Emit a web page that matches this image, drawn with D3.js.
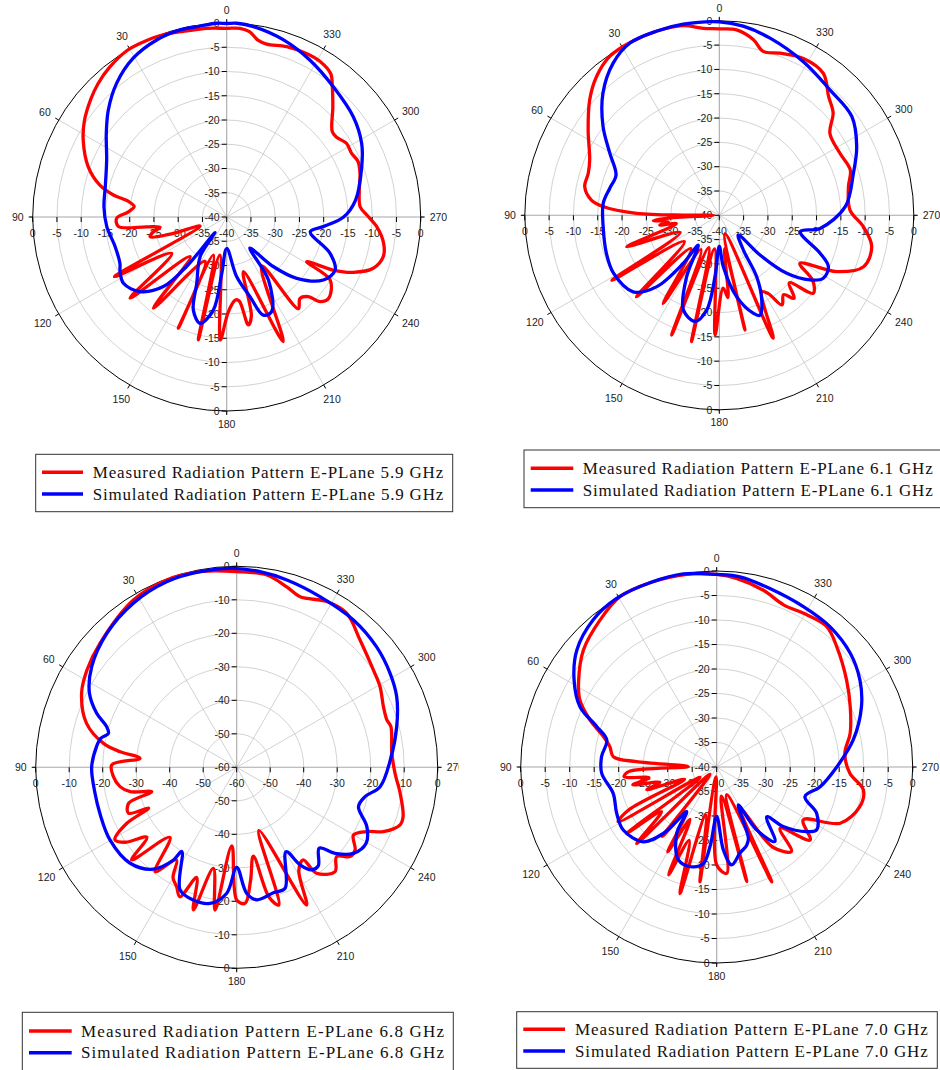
<!DOCTYPE html>
<html>
<head>
<meta charset="utf-8">
<script src="https://cdn.jsdelivr.net/npm/d3@7"></script>
<style>
  body { margin: 0; background: #fff; }
  svg { display: block; }
</style>
</head>
<body>
<script>
// [angle in degrees, gain in dB]
const meas59 = [[0,-1.1],[6,-0.9],[12,-0.75],[19,-0.2],[26,0],[31,0],[38,-0.8],[44,-1.8],[49,-2.9],[56,-4.6],[62,-6.5],[70,-9.6],[76,-13.1],[79,-16.2],[81,-19.5],[83.5,-20.8],[87,-19.7],[90.7,-17.3],[95,-17.6],[97,-23.4],[98.8,-26.1],[101.5,-24.5],[104.4,-23.7],[107,-28.5],[108.8,-34.2],[118,-13.8],[123.5,-26.4],[130,-14],[137.3,-28.9],[141.2,-15.9],[154,-29.8],[156.5,-15],[160.7,-31.7],[167,-14],[170,-32],[177,-14.6],[180.5,-20],[183.5,-22],[186,-22.8],[188.5,-22.5],[191.3,-17.3],[194,-19],[197,-28.2],[204.4,-11.8],[215.5,-27.6],[218,-16],[222,-17.4],[225.7,-16.5],[227.8,-14],[231.3,-13.1],[238.6,-15],[240.8,-21.1],[243.5,-15.5],[246.4,-11.5],[250.7,-8],[255.8,-6.7],[260.5,-7.2],[266.3,-9],[270.8,-11.1],[274.4,-12.4],[281.5,-12.1],[288,-11.1],[293,-10.6],[297,-11.1],[301.5,-11],[306,-12],[309,-12],[316,-8.5],[321,-5.4],[324,-3.5],[329,-2.6],[334,-2.5],[340.6,-2.75],[347,-3.4],[350,-2.95],[353,-1.5],[356,-1]];
const sim59 = [[0,-0.1],[3,0],[8,-0.25],[14,-0.25],[21.6,-0.75],[30.5,-2],[39.5,-4.3],[47.9,-7.1],[55.3,-9.8],[64.6,-12.6],[76,-14.2],[85.2,-14.6],[94.6,-15.2],[104.9,-16.2],[113.5,-16],[117.1,-15.3],[122.7,-14.7],[130.7,-16.4],[137.7,-20.6],[141,-27],[143,-36],[146.1,-30.2],[155.7,-25],[160.3,-19.6],[166,-17.4],[171.8,-20.6],[175,-28.3],[180,-33.5],[189.5,-27.5],[196.3,-22.9],[200.5,-18.4],[205.4,-18.4],[213.5,-24.4],[216.7,-32],[223.2,-26],[228.8,-20.8],[236.9,-16.2],[243.9,-15.1],[250.6,-17.4],[260,-22.5],[264.3,-20],[270,-15.9],[277.5,-13.2],[290.4,-10.3],[298.6,-8.3],[308.4,-6.7],[320.7,-5.3],[332,-3.4],[342.2,-1.65],[352,-0.35],[357,0]];

const meas61 = [[0,-1.65],[4.9,-1.4],[10.8,-0.3],[18.6,0],[27,0],[34.6,-0.3],[41.5,-1.9],[48.3,-4.3],[56.9,-7.8],[66.8,-11],[72.2,-11.7],[78,-11.7],[83.2,-13.5],[85.7,-16],[88.6,-23],[89.6,-33],[90,-38.8],[93.3,-29.2],[94.5,-26.4],[97,-29.4],[99.3,-27.6],[101,-31],[108.7,-19.9],[113.8,-31.2],[121.2,-14.2],[127,-31],[134.5,-16.1],[139.5,-31],[147.5,-18.5],[152,-32],[158.3,-13.5],[162,-33],[167.6,-13.4],[172,-33],[178,-15.4],[183,-25],[186,-23],[189,-33],[192.6,-15.8],[197,-36],[203.7,-12.4],[209,-22],[212,-21],[215,-17.5],[219,-19],[222,-17],[226,-20],[230.3,-14.9],[235,-16.5],[239.2,-20.7],[244.4,-13.2],[250.4,-8.5],[258.4,-8],[265.5,-10.3],[272.3,-13.1],[282.5,-12.8],[289,-11.5],[297.2,-12.1],[306.5,-11.7],[312,-8.5],[317.4,-6.8],[323.8,-3.8],[331.8,-3.4],[339.5,-4.4],[345,-5.1],[349,-3.2],[354.7,-1.7]];
const sim61 = [[0,-0.2],[10.7,0],[18.7,0],[27.4,-0.1],[34.9,-1.85],[43.6,-5.3],[52.6,-9.9],[60.4,-14.1],[68.7,-17.2],[76.1,-16.8],[84.1,-16],[95.6,-16],[108.6,-15.5],[118.7,-15.2],[131.6,-16.3],[138.7,-20.4],[143.1,-27.6],[144.7,-32.5],[152,-25.7],[159.2,-19.2],[167.1,-17.6],[172.4,-20.3],[176,-27.4],[180,-33.6],[184.5,-29.4],[192,-22.9],[199.1,-18.7],[202.2,-17.8],[206.6,-20.5],[211.3,-25.2],[214.7,-31.3],[224,-34.4],[225.7,-28.3],[229.3,-21.7],[234.5,-17.1],[238.8,-15],[244.8,-15.2],[249.3,-17.8],[258.6,-23],[262.6,-19.1],[274,-14],[287.4,-11.1],[296.6,-8.4],[306.7,-6],[318.6,-5.6],[331.3,-4],[344,-2.1],[352.8,-0.8]];

const meas68 = [[0,-1.6],[10.6,-0.6],[20.5,-0.3],[31.7,-1.3],[47.8,-4.9],[57,-6.7],[64.5,-8.7],[73.7,-13.3],[79.8,-19.6],[82.4,-24.9],[84.7,-31],[88.9,-22.7],[94.3,-23.1],[99.4,-24.7],[102.9,-27.4],[106,-33.6],[108.4,-26],[113,-24.9],[114.9,-31],[117,-23.2],[120.8,-17.7],[124,-20],[127.9,-26],[131.4,-18.2],[136.4,-31.1],[142,-20.5],[147,-27],[150,-22],[153.3,-20.1],[156.3,-17.8],[160,-25],[163.1,-15.5],[167,-29],[171.4,-16.9],[176.4,-36.5],[180,-20.4],[183.5,-19.3],[187,-26],[190.6,-33],[194,-20],[197,-17],[199.3,-40],[206.9,-13.9],[211,-24],[215.7,-26],[217,-20.4],[223.3,-17.2],[228.2,-20],[231.8,-16.9],[235.1,-16.9],[239.9,-19.7],[243.7,-16.7],[246.3,-12.2],[250.6,-8.3],[253.5,-8.2],[261,-10.6],[267.8,-12.7],[275.2,-13.5],[284.8,-12.4],[287.5,-13],[292.5,-12.6],[299.4,-10.9],[305.5,-9.9],[315.9,-7.1],[324.5,-3.5],[331.5,-3.7],[339.6,-5.7],[344.5,-4.1],[351.1,-1.9]];
const sim68 = [[1,-0.6],[10.6,-0.6],[20.7,-0.8],[32.2,-2.1],[44.1,-4.3],[55.2,-7.3],[63.3,-10.8],[68.9,-15.2],[72.6,-19.3],[75.2,-20.4],[78,-18.5],[81.6,-17.7],[90,-16.7],[100.4,-17],[108.6,-16.9],[119.8,-16.4],[132,-17.2],[140.7,-20.7],[145.7,-26.5],[146.9,-30],[155.2,-19.7],[161.9,-18.3],[168.9,-18.6],[175.5,-22.3],[180,-30.1],[184.5,-22.3],[188.6,-20],[196.3,-21],[201.8,-21.1],[210.3,-30.8],[213,-25.3],[216.1,-22.1],[219.6,-21.8],[225.6,-25.5],[228.8,-21],[233.6,-16.7],[239.6,-15.2],[245.5,-17.3],[252.1,-21.8],[257.1,-20.7],[262.3,-16.8],[272.7,-14.1],[284.3,-10.7],[293.8,-7.8],[301.5,-6.3],[310.8,-4.9],[321.6,-3.9],[334,-3.3],[345,-2.1],[353.2,-1.2]];

const meas70 = [[0,-0.7],[8.8,-0.2],[19.5,0],[29.6,0],[38.4,-1.7],[48.7,-3.8],[57.8,-6.7],[63.9,-8.9],[69.6,-12.4],[75,-16.1],[79.2,-17.8],[84.3,-18.8],[86.2,-23.6],[89.3,-34.2],[93,-22],[96,-21],[99,-26],[102,-22.5],[105,-28],[108,-25],[111,-33],[116,-20],[119,-17],[122,-36],[126.4,-17.2],[129,-25.5],[133.7,-17.4],[137,-38],[142,-22],[146,-29],[150,-20],[153,-28],[156,-15.9],[159.4,-24],[163.8,-13.1],[167,-30],[171.7,-16.3],[176,-38],[180,-20],[185.4,-18.2],[189,-34],[194.7,-15.8],[199.7,-34],[205.6,-14],[210,-30],[215,-20],[221.5,-17],[226,-22],[232,-15.8],[238.6,-19.3],[245.5,-12.3],[254.5,-9.7],[261.1,-9.7],[267.3,-12.8],[276.1,-13.7],[284.2,-11.9],[294.3,-10.1],[303.8,-8.1],[315.1,-5.3],[321.9,-3.6],[329.4,-3.9],[337.6,-4.2],[345.2,-2.7],[354,-1.3]];
const sim70 = [[0,-0.7],[9.8,0],[19.5,0],[30.7,0],[40,-0.8],[50.1,-2.8],[58.6,-5.9],[66.2,-9.5],[71.4,-14.2],[76.2,-16.9],[84.9,-16.4],[93.2,-16.5],[104.3,-18.2],[114.9,-17.5],[124,-17],[135.5,-18.6],[141.2,-22.6],[146.1,-29],[148.9,-24.2],[157.6,-19.5],[166,-19],[172.1,-20.1],[175.2,-23.7],[180,-29.9],[184.6,-23],[188.7,-19.8],[195.1,-21.8],[201,-22.9],[204,-24.1],[209.7,-31.1],[212.4,-24.8],[218,-20.7],[225.2,-25.6],[228.2,-21.8],[234.3,-17.4],[237.8,-15.9],[245.1,-17.5],[251.4,-21],[259.2,-18.5],[270,-15.5],[281.2,-11.6],[292.6,-8],[301.3,-5.8],[310.4,-4.2],[321,-3.2],[331.6,-2.8],[343.4,-2],[353,-0.9]];

const angleTicks = [0, 30, 60, 90, 120, 150, 180, 210, 240, 270, 300, 330];
const freqs = ["5.9", "6.1", "6.8", "7.0"];

const width = 940, height = 1070;

// panel layout (pixels)
const panels = [
  {cx: 226.7, cy: 217, R: 194, min: -40, step: 5, meas: meas59, sim: sim59, freq: freqs[0],
   lg: {x: 35.7, y: 454.3, w: 417, h: 57.4, l0: 42, l1: 83, y1: 472.3, y2: 494, tx: 92.7, tl: 350.6}},
  {cx: 719.3, cy: 215.3, R: 194.5, min: -40, step: 5, meas: meas61, sim: sim61, freq: freqs[1],
   lg: {x: 524, y: 450, w: 430, h: 57.7, l0: 530.7, l1: 573.3, y1: 468.3, y2: 490, tx: 582.7, tl: 350}},
  {cx: 236.7, cy: 767.3, R: 201, min: -60, step: 10, meas: meas68, sim: sim68, freq: freqs[2], clip: 459,
   lg: {x: 22.3, y: 1012.3, w: 431, h: 70, l0: 29, l1: 71.7, y1: 1031, y2: 1052.7, tx: 81, tl: 363}},
  {cx: 716.7, cy: 767, R: 196, min: -40, step: 5, meas: meas70, sim: sim70, freq: freqs[3],
   lg: {x: 516.7, y: 1011.7, w: 420.6, h: 56.6, l0: 523.3, l1: 565, y1: 1029.3, y2: 1051, tx: 575, tl: 352.7}}
];

const svg = d3.select("body").append("svg")
    .attr("width", width)
    .attr("height", height)
    .attr("viewBox", [0, 0, width, height]);

const rad = a => a * Math.PI / 180;
const labelFont = "'Liberation Sans', Arial, sans-serif";
const legendFont = "'Liberation Serif', 'Times New Roman', serif";

panels.forEach((p, i) => {
  let root = svg.append("g");
  if (p.clip) {
    svg.append("clipPath").attr("id", "clip" + i)
      .append("rect").attr("x", 0).attr("y", 0).attr("width", p.clip).attr("height", height);
    root.attr("clip-path", `url(#clip${i})`);
  }
  const g = root.append("g").attr("transform", `translate(${p.cx},${p.cy})`);

  const r = d3.scaleLinear().domain([p.min, 0]).range([0, p.R]).clamp(true);
  const ticks = d3.range(p.min, 0.001, p.step);

  // rings
  g.append("g")
    .attr("fill", "none")
    .attr("stroke", "#c6c6c6")
    .attr("stroke-width", 0.8)
    .selectAll("circle")
    .data(ticks.filter(t => t > p.min && t < 0))
    .join("circle")
      .attr("r", r);

  // spokes
  g.append("g")
    .attr("stroke", "#c6c6c6")
    .attr("stroke-width", 0.8)
    .selectAll("line")
    .data(angleTicks.filter(a => a % 90 !== 0))
    .join("line")
      .attr("x2", a => -p.R * Math.sin(rad(a)))
      .attr("y2", a => -p.R * Math.cos(rad(a)));

  // main axes
  g.append("line").attr("x1", -p.R - 3).attr("x2", p.R + 3)
    .attr("stroke", "#a8a8a8").attr("stroke-width", 1.1);
  g.append("line").attr("y1", -p.R - 3).attr("y2", p.R + 3)
    .attr("stroke", "#a8a8a8").attr("stroke-width", 1.1);

  // outer circle
  g.append("circle").attr("r", p.R)
    .attr("fill", "none").attr("stroke", "#000").attr("stroke-width", 1);

  // angle ticks
  g.append("g")
    .attr("stroke", "#000")
    .attr("stroke-width", 1)
    .selectAll("line")
    .data(angleTicks)
    .join("line")
      .attr("x1", a => -p.R * Math.sin(rad(a)))
      .attr("y1", a => -p.R * Math.cos(rad(a)))
      .attr("x2", a => -(p.R + 4) * Math.sin(rad(a)))
      .attr("y2", a => -(p.R + 4) * Math.cos(rad(a)));

  // angle labels
  const fs = 10.5;
  const labelOff = a => p.R + 9 + Math.abs(Math.sin(rad(a))) * String(a).length * 0.556 * fs / 2
                        + Math.abs(Math.cos(rad(a))) * fs * 0.36;
  g.append("g")
    .attr("font-family", labelFont)
    .attr("font-size", fs)
    .attr("fill", "#222")
    .attr("text-anchor", "middle")
    .selectAll("text")
    .data(angleTicks)
    .join("text")
      .attr("x", a => -labelOff(a) * Math.sin(rad(a)))
      .attr("y", a => -labelOff(a) * Math.cos(rad(a)))
      .attr("dy", "0.36em")
      .text(a => a);

  // radial axis ticks and labels: vertical axis (left side) and horizontal axis (below)
  const ax = g.append("g");
  const both = ticks.flatMap(t => t === p.min ? [{t, s: 1}] : [{t, s: -1}, {t, s: 1}]);

  ax.append("g").attr("stroke", "#000").attr("stroke-width", 1)
    .selectAll("line")
    .data(both)
    .join("line")
      .attr("x1", -5).attr("x2", 0)
      .attr("y1", d => d.s * r(d.t)).attr("y2", d => d.s * r(d.t));

  ax.append("g").attr("stroke", "#000").attr("stroke-width", 1)
    .selectAll("line")
    .data(both)
    .join("line")
      .attr("x1", d => d.s * r(d.t)).attr("x2", d => d.s * r(d.t))
      .attr("y1", 0).attr("y2", 5);

  ax.append("g")
    .attr("font-family", labelFont)
    .attr("font-size", fs)
    .attr("fill", "#222")
    .attr("text-anchor", "end")
    .selectAll("text")
    .data(both)
    .join("text")
      .attr("x", -7)
      .attr("y", d => d.s * r(d.t))
      .attr("dy", "0.36em")
      .text(d => d.t);

  ax.append("g")
    .attr("font-family", labelFont)
    .attr("font-size", fs)
    .attr("fill", "#222")
    .attr("text-anchor", "middle")
    .selectAll("text")
    .data(both)
    .join("text")
      .attr("x", d => d.s * r(d.t))
      .attr("y", 16)
      .attr("dy", "0.36em")
      .text(d => d.t);

  // pattern curves
  const line = d3.lineRadial()
      .angle(d => -rad(d[0]))
      .radius(d => r(d[1]))
      .curve(d3.curveCatmullRomClosed.alpha(0.5));

  g.append("path")
    .datum(p.meas)
    .attr("d", line)
    .attr("fill", "none")
    .attr("stroke", "#ff0000")
    .attr("stroke-width", 3.3)
    .attr("stroke-linejoin", "round");

  g.append("path")
    .datum(p.sim)
    .attr("d", line)
    .attr("fill", "none")
    .attr("stroke", "#0000ff")
    .attr("stroke-width", 3.3)
    .attr("stroke-linejoin", "round");

  // legend
  const L = p.lg;
  const lg = svg.append("g");
  lg.append("rect")
    .attr("x", L.x).attr("y", L.y).attr("width", L.w).attr("height", L.h)
    .attr("fill", "#fff").attr("stroke", "#333").attr("stroke-width", 1);
  const items = [
    {name: `Measured Radiation Pattern E-PLane ${p.freq} GHz`, color: "#ff0000", y: L.y1},
    {name: `Simulated Radiation Pattern E-PLane ${p.freq} GHz`, color: "#0000ff", y: L.y2}
  ];
  items.forEach(it => {
    lg.append("line")
      .attr("x1", L.l0).attr("x2", L.l1)
      .attr("y1", it.y).attr("y2", it.y)
      .attr("stroke", it.color).attr("stroke-width", 3.5);
    lg.append("text")
      .attr("x", L.tx).attr("y", it.y)
      .attr("dy", "0.34em")
      .attr("font-family", legendFont)
      .attr("font-size", 17)
      .attr("fill", "#111")
      .attr("textLength", L.tl)
      .attr("lengthAdjust", "spacing")
      .text(it.name);
  });
});
</script>
</body>
</html>
